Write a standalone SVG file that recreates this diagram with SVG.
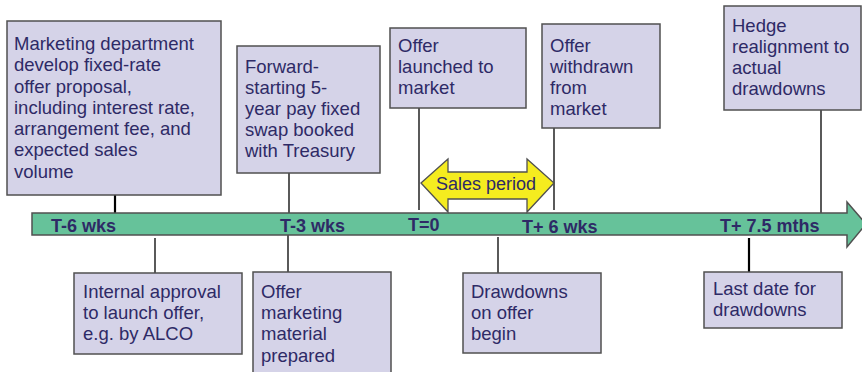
<svg xmlns="http://www.w3.org/2000/svg" width="862" height="372" viewBox="0 0 862 372">
<style>
.box{fill:#d5d3e8;stroke:#505050;stroke-width:1.5}
.t{font-family:"Liberation Sans",Arial,sans-serif;font-size:18.5px;fill:#2e2a66}
.tl{font-family:"Liberation Sans",Arial,sans-serif;font-size:18px;font-weight:bold;fill:#2e2a66}
.c{stroke:#000;stroke-width:1.3;fill:none}
.ct{stroke:#000;stroke-width:2.2;fill:none}
</style>
<rect width="862" height="372" fill="#fff"/>
<g id="connectors">
<line class="ct" x1="115" y1="195" x2="115" y2="213"/>
<line class="c" x1="289" y1="173" x2="289" y2="213"/>
<line class="c" x1="419" y1="108" x2="419" y2="210"/>
<line class="c" x1="554" y1="128" x2="554" y2="210" stroke="#555"/>
<line class="c" x1="821" y1="110" x2="821" y2="213"/>
<line class="c" x1="155" y1="238" x2="155" y2="273"/>
<line class="c" x1="288" y1="235" x2="288" y2="272"/>
<line class="c" x1="498" y1="237" x2="498" y2="273"/>
<line class="ct" x1="749" y1="238" x2="749" y2="272"/>
</g>
<g id="timeline">
<polygon points="32,213 847,213 847,202 866,224 847,247 847,235 32,235" fill="#66c29a" stroke="#505050" stroke-width="1.5"/>
<text class="tl" x="51" y="232">T-6 wks</text>
<text class="tl" x="280" y="232">T-3 wks</text>
<text class="tl" x="408" y="231">T=0</text>
<text class="tl" x="522" y="233">T+ 6 wks</text>
<text class="tl" x="720" y="232">T+ 7.5 mths</text>
</g>
<g id="sales-period">
<polygon points="421,183 448,159 448,172 527,172 527,159 554,183 527,212 527,199 448,199 448,212" fill="#f5ec1f" stroke="#505050" stroke-width="1.3"/>
<text x="436" y="190" font-family="Liberation Sans, Arial, sans-serif" font-size="18" fill="#2e2a66">Sales period</text>
</g>
<g id="n1">
<rect class="box" x="7" y="21" width="214" height="174"/>
<text class="t"><tspan x="14" y="50">Marketing department</tspan><tspan x="14" y="71">develop fixed-rate</tspan><tspan x="14" y="92.5">offer proposal,</tspan><tspan x="14" y="114">including interest rate,</tspan><tspan x="14" y="135">arrangement fee, and</tspan><tspan x="14" y="156">expected sales</tspan><tspan x="14" y="177.5">volume</tspan></text>
</g>
<g id="n2">
<rect class="box" x="237" y="46" width="143" height="127"/>
<text class="t"><tspan x="245" y="73">Forward-</tspan><tspan x="245" y="94">starting 5-</tspan><tspan x="245" y="115">year pay fixed</tspan><tspan x="245" y="136">swap booked</tspan><tspan x="245" y="157">with Treasury</tspan></text>
</g>
<g id="n3">
<rect class="box" x="390" y="28" width="136" height="80"/>
<text class="t"><tspan x="398" y="52">Offer</tspan><tspan x="398" y="73">launched to</tspan><tspan x="398" y="94">market</tspan></text>
</g>
<g id="n4">
<rect class="box" x="542" y="24" width="118" height="104"/>
<text class="t"><tspan x="550" y="51.5">Offer</tspan><tspan x="550" y="72.5">withdrawn</tspan><tspan x="550" y="93.5">from</tspan><tspan x="550" y="114.5">market</tspan></text>
</g>
<g id="n5">
<rect class="box" x="724" y="6" width="137" height="104"/>
<text class="t"><tspan x="732" y="32">Hedge</tspan><tspan x="732" y="53">realignment to</tspan><tspan x="732" y="74">actual</tspan><tspan x="732" y="95">drawdowns</tspan></text>
</g>
<g id="n6">
<rect class="box" x="74" y="273" width="168" height="81"/>
<text class="t"><tspan x="83" y="298">Internal approval</tspan><tspan x="83" y="319">to launch offer,</tspan><tspan x="83" y="340">e.g. by ALCO</tspan></text>
</g>
<g id="n7">
<rect class="box" x="253" y="272" width="138" height="110"/>
<text class="t"><tspan x="261" y="298">Offer</tspan><tspan x="261" y="319">marketing</tspan><tspan x="261" y="340">material</tspan><tspan x="261" y="362">prepared</tspan></text>
</g>
<g id="n8">
<rect class="box" x="463" y="273" width="138" height="80"/>
<text class="t"><tspan x="471" y="298">Drawdowns</tspan><tspan x="471" y="319">on offer</tspan><tspan x="471" y="340">begin</tspan></text>
</g>
<g id="n9">
<rect class="box" x="704" y="272" width="138" height="56"/>
<text class="t"><tspan x="713" y="295">Last date for</tspan><tspan x="713" y="316">drawdowns</tspan></text>
</g>
</svg>
